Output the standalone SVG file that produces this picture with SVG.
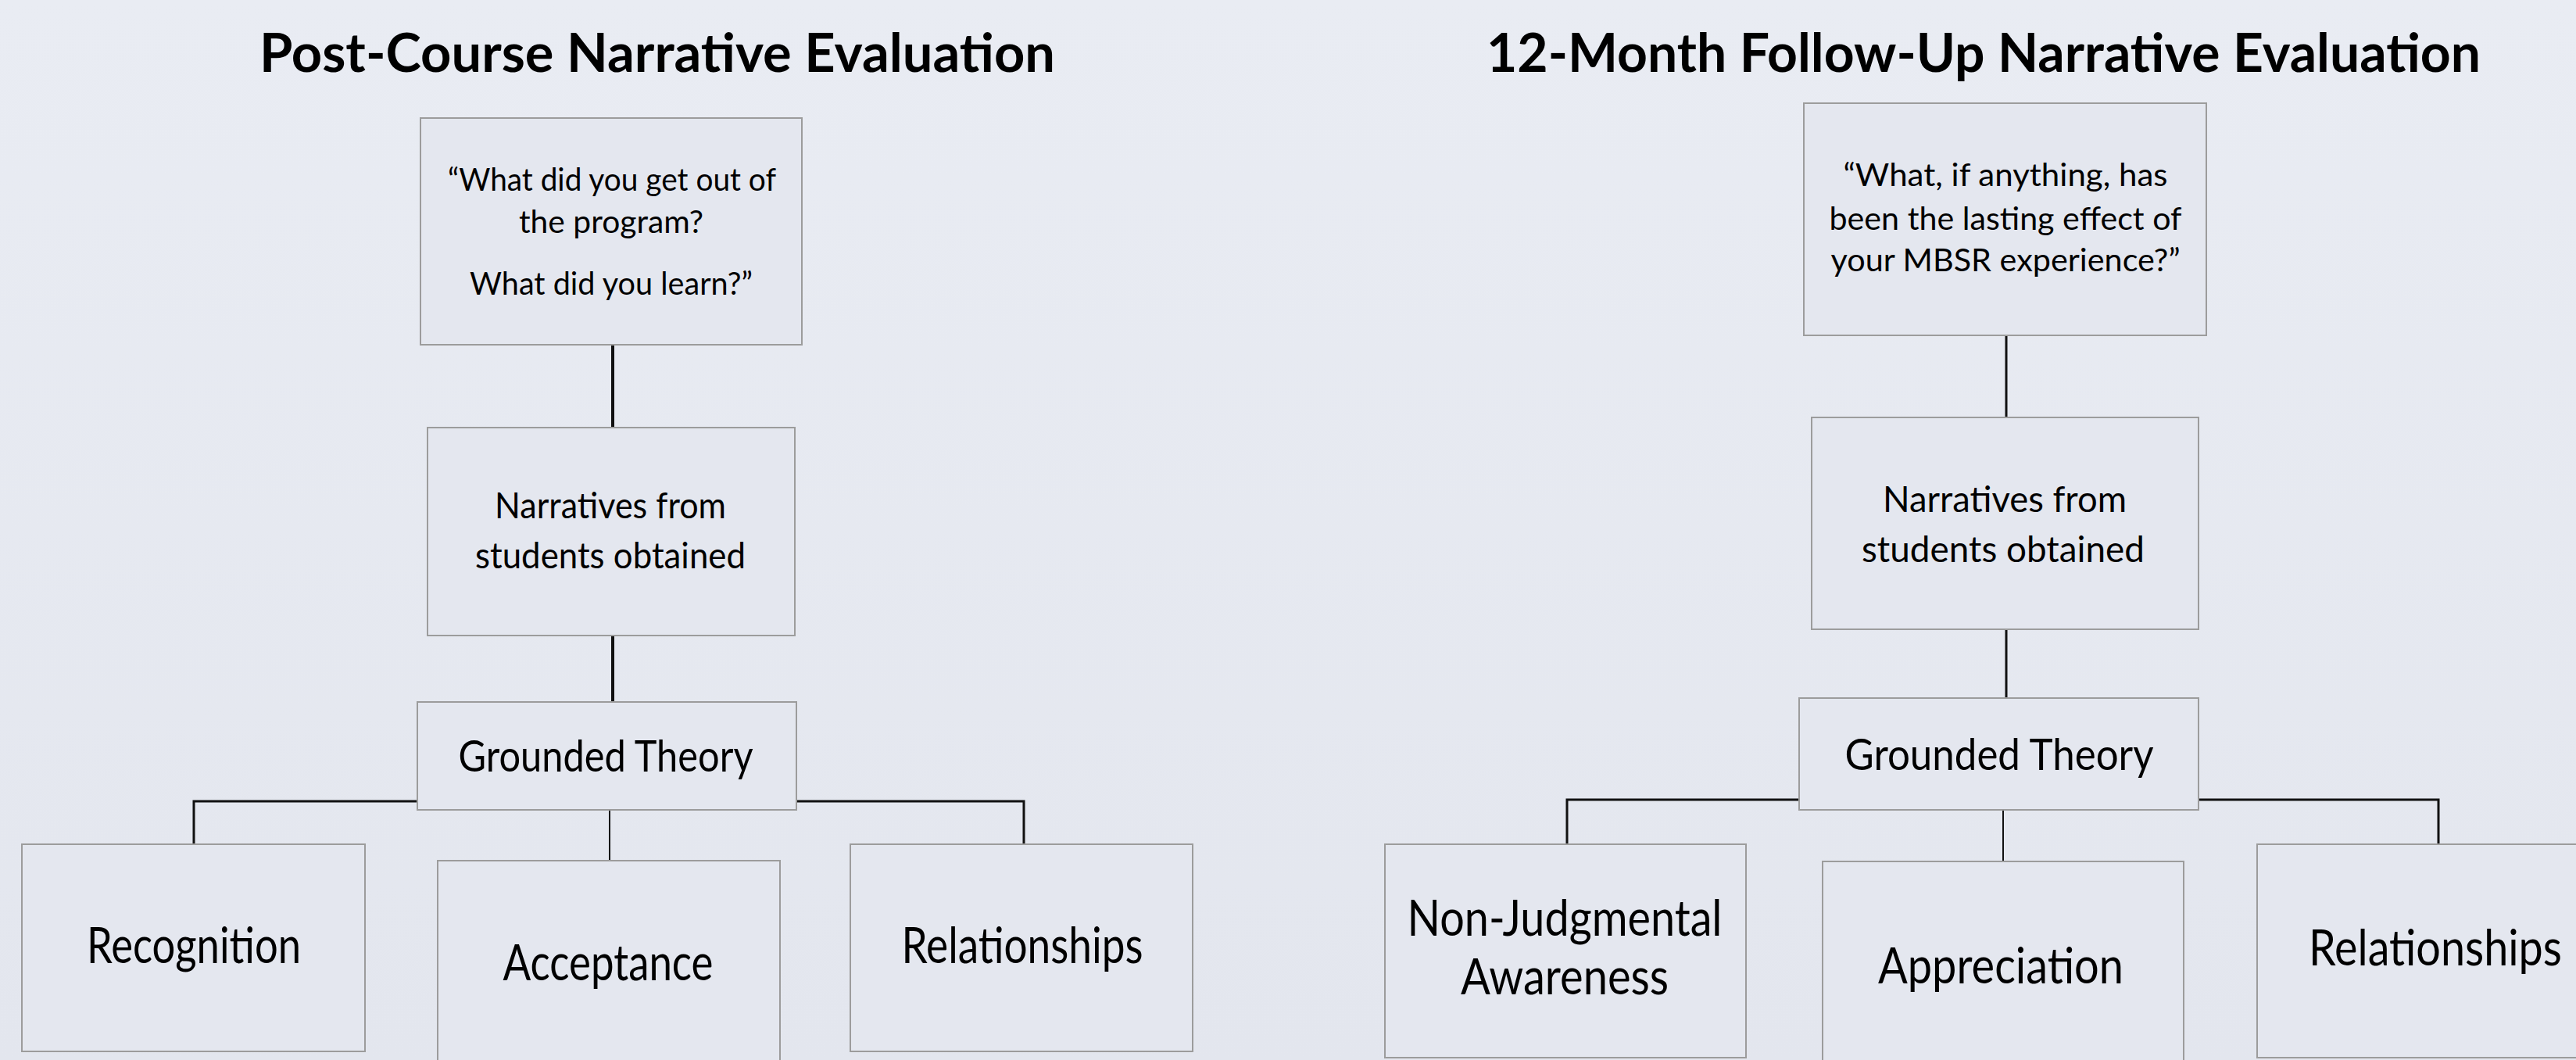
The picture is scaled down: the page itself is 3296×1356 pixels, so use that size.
<svg xmlns="http://www.w3.org/2000/svg" width="3296" height="1356" viewBox="0 0 3296 1356">
<defs>
<linearGradient id="bg" x1="0" y1="0" x2="0" y2="1">
<stop offset="0" stop-color="#E9ECF3"/>
<stop offset="1" stop-color="#E3E6EE"/>
</linearGradient>
<style>
.box{fill:#E4E7EF;stroke:#9C9C9C;stroke-width:2}
.t{font-family:Lato,"Liberation Sans",sans-serif;fill:#000;text-anchor:middle}
.title{font-weight:bold;font-size:68px}
.q{font-size:41px}
.n{font-size:46px}
.g{font-size:56px}
.b{font-size:63px}
.c{stroke:#111;fill:none}
.thick{stroke-width:4}
.mid{stroke-width:3}
.thin{stroke-width:2}
</style>
</defs>
<rect width="3296" height="1356" fill="url(#bg)"/>
<text class="t title" x="841" y="92" textLength="1018" lengthAdjust="spacingAndGlyphs">Post-Course Narrative Evaluation</text>
<text class="t title" x="2538" y="92" textLength="1272" lengthAdjust="spacingAndGlyphs">12-Month Follow-Up Narrative Evaluation</text>
<g id="connectors">
<line class="c thick" x1="784" y1="441" x2="784" y2="547"/>
<line class="c thick" x1="784" y1="813" x2="784" y2="898"/>
<polyline class="c mid" points="534,1025 248,1025 248,1080"/>
<polyline class="c mid" points="1019,1025 1310,1025 1310,1080"/>
<line class="c thin" x1="780" y1="1036" x2="780" y2="1101"/>
<line class="c mid" x1="2567" y1="429" x2="2567" y2="534"/>
<line class="c mid" x1="2567" y1="805" x2="2567" y2="893"/>
<polyline class="c mid" points="2302,1023 2005,1023 2005,1080"/>
<polyline class="c mid" points="2813,1023 3120,1023 3120,1080"/>
<line class="c thin" x1="2563" y1="1036" x2="2563" y2="1102"/>
</g>
<g id="q1">
<rect class="box" x="538" y="151" width="488" height="290"/>
<text class="t q" x="783" y="244" textLength="420" lengthAdjust="spacingAndGlyphs">“What did you get out of</text>
<text class="t q" x="782" y="298" textLength="236" lengthAdjust="spacingAndGlyphs">the program?</text>
<text class="t q" x="782" y="377" textLength="362" lengthAdjust="spacingAndGlyphs">What did you learn?”</text>
</g>
<g id="n1">
<rect class="box" x="547" y="547" width="470" height="266"/>
<text class="t n" x="781" y="663" textLength="296" lengthAdjust="spacingAndGlyphs">Narratives from</text>
<text class="t n" x="781" y="727" textLength="346" lengthAdjust="spacingAndGlyphs">students obtained</text>
</g>
<g id="g1">
<rect class="box" x="534" y="898" width="485" height="138"/>
<text class="t g" x="775" y="987" textLength="377" lengthAdjust="spacingAndGlyphs">Grounded Theory</text>
</g>
<g id="recognition">
<rect class="box" x="28" y="1080" width="439" height="265"/>
<text class="t b" x="248" y="1232" textLength="274" lengthAdjust="spacingAndGlyphs">Recognition</text>
</g>
<g id="acceptance">
<rect class="box" x="560" y="1101" width="438" height="265"/>
<text class="t b" x="778" y="1254" textLength="269" lengthAdjust="spacingAndGlyphs">Acceptance</text>
</g>
<g id="relationships1">
<rect class="box" x="1088" y="1080" width="438" height="265"/>
<text class="t b" x="1308" y="1232" textLength="309" lengthAdjust="spacingAndGlyphs">Relationships</text>
</g>
<g id="q2">
<rect class="box" x="2308" y="132" width="515" height="297"/>
<text class="t q" x="2566" y="238" textLength="415" lengthAdjust="spacingAndGlyphs">“What, if anything, has</text>
<text class="t q" x="2566" y="294" textLength="451" lengthAdjust="spacingAndGlyphs">been the lasting effect of</text>
<text class="t q" x="2566" y="347" textLength="447" lengthAdjust="spacingAndGlyphs">your MBSR experience?”</text>
</g>
<g id="n2">
<rect class="box" x="2318" y="534" width="495" height="271"/>
<text class="t n" x="2565" y="655" textLength="312" lengthAdjust="spacingAndGlyphs">Narratives from</text>
<text class="t n" x="2563" y="719" textLength="362" lengthAdjust="spacingAndGlyphs">students obtained</text>
</g>
<g id="g2">
<rect class="box" x="2302" y="893" width="511" height="143"/>
<text class="t g" x="2558" y="985" textLength="395" lengthAdjust="spacingAndGlyphs">Grounded Theory</text>
</g>
<g id="nonjudgmental">
<rect class="box" x="1772" y="1080" width="462" height="273"/>
<text class="t b" x="2002" y="1197" textLength="403" lengthAdjust="spacingAndGlyphs">Non-Judgmental</text>
<text class="t b" x="2002" y="1272" textLength="266" lengthAdjust="spacingAndGlyphs">Awareness</text>
</g>
<g id="appreciation">
<rect class="box" x="2332" y="1102" width="462" height="270"/>
<text class="t b" x="2560" y="1258" textLength="314" lengthAdjust="spacingAndGlyphs">Appreciation</text>
</g>
<g id="relationships2">
<rect class="box" x="2888" y="1080" width="440" height="273"/>
<text class="t b" x="3116" y="1235" textLength="324" lengthAdjust="spacingAndGlyphs">Relationships</text>
</g>
</svg>
